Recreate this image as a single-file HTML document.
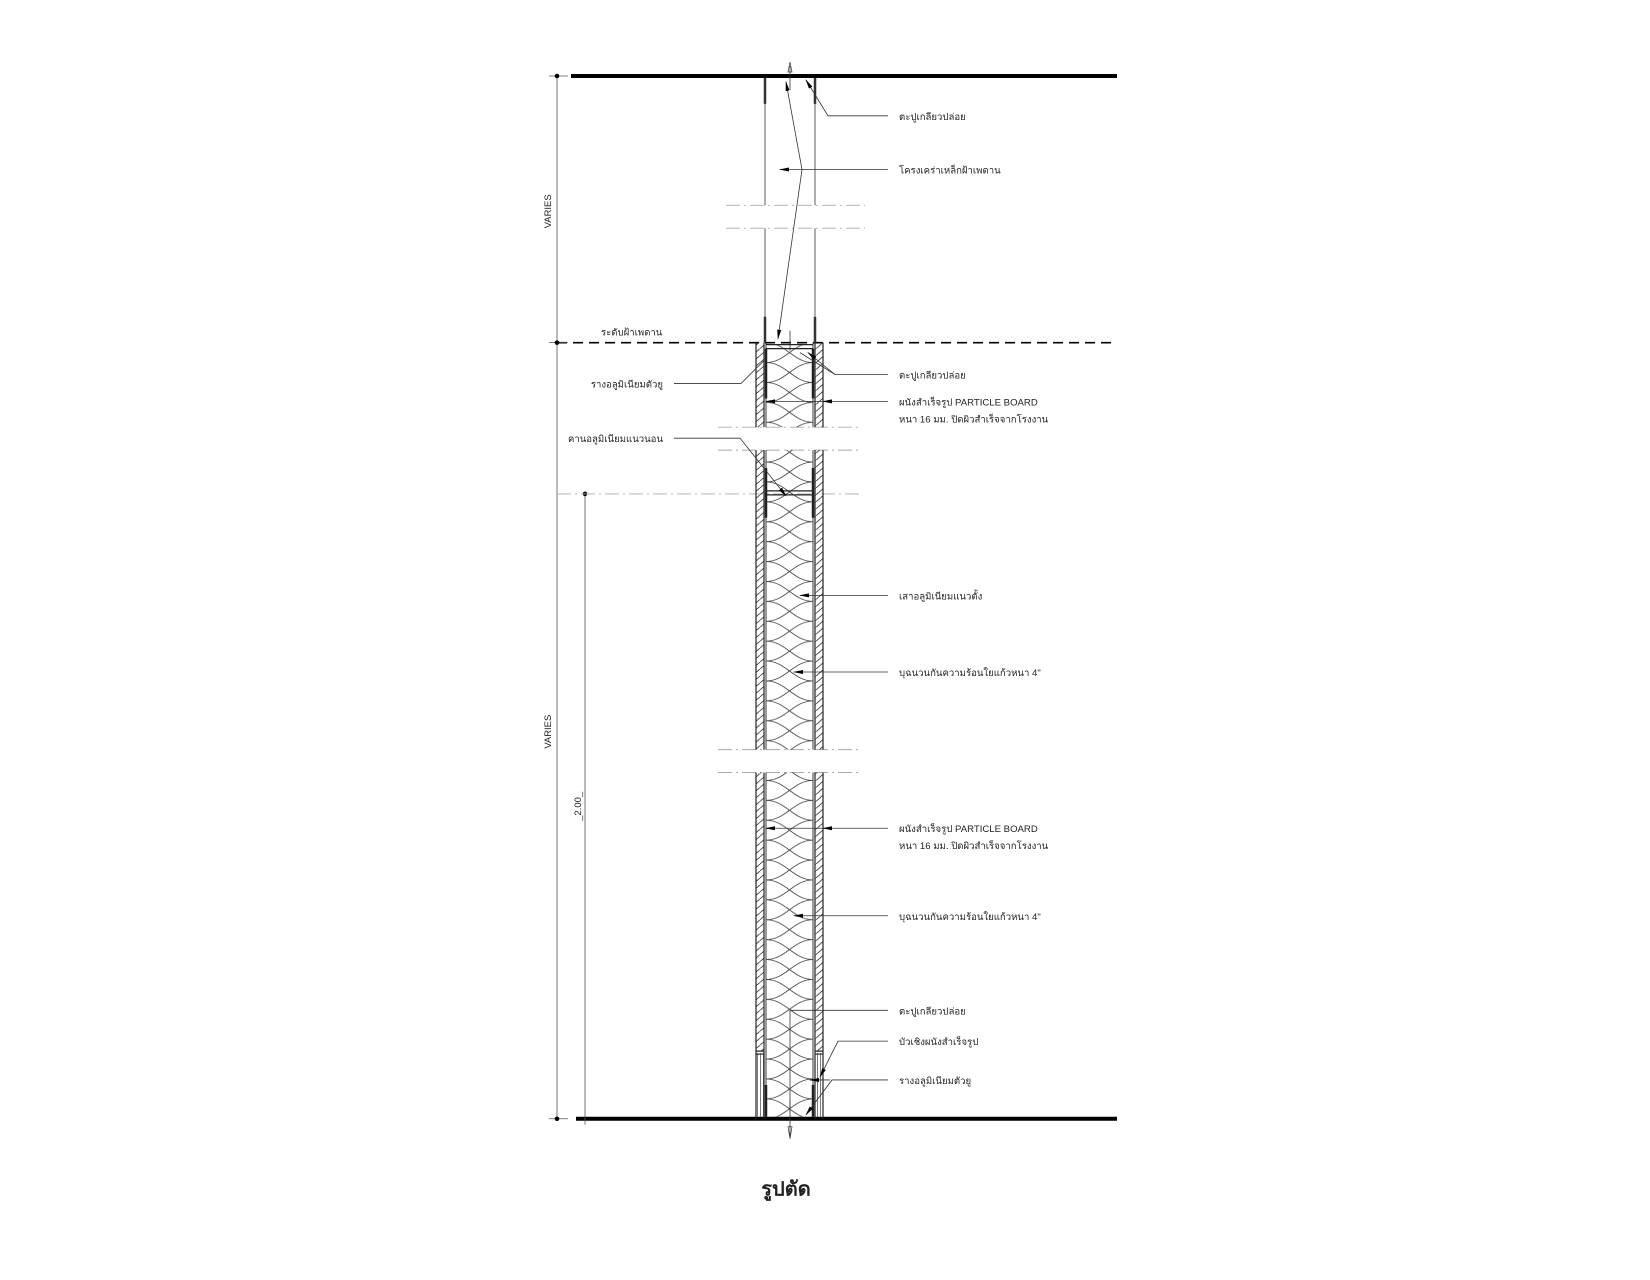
<!DOCTYPE html>
<html><head><meta charset="utf-8"><style>
html,body{margin:0;padding:0;background:#fff;}
svg text{font-family:"Liberation Sans","Noto Sans CJK SC",sans-serif;fill:#222;}
</style></head><body>
<svg width="1650" height="1275" viewBox="0 0 1650 1275" xmlns="http://www.w3.org/2000/svg">
<defs>
<pattern id="hat" patternUnits="userSpaceOnUse" width="8" height="7">
<path d="M-1,8 L9,-1" stroke="#333" stroke-width="0.8"/>
</pattern>
<pattern id="ins" patternUnits="userSpaceOnUse" x="766" y="344" width="47" height="40">
<path d="M0,0 C20,0 27,20 47,20 C27,20 20,40 0,40 M47,0 C27,0 20,20 0,20 C20,20 27,40 47,40" fill="none" stroke="#444" stroke-width="0.8"/>
</pattern>
<pattern id="vl" patternUnits="userSpaceOnUse" width="3" height="10">
<path d="M1.5,0 V10" stroke="#444" stroke-width="0.7"/>
</pattern>
<marker id="ar" markerWidth="10" markerHeight="6" refX="9" refY="3" orient="auto" markerUnits="userSpaceOnUse">
<path d="M0,1 L10,3 L0,5 Z" fill="#000"/>
</marker>
</defs>
<g transform="translate(0,76) scale(1,0.995) translate(0,-76)">
<!-- slabs -->
<line x1="571" y1="76" x2="1117" y2="76" stroke="#000" stroke-width="4"/>
<line x1="576" y1="1124" x2="1117" y2="1124" stroke="#000" stroke-width="4"/>
<line x1="557" y1="344" x2="1117" y2="344" stroke="#000" stroke-width="1.6" stroke-dasharray="10,6"/>

<!-- dims -->
<g stroke="#555" stroke-width="0.8">
<line x1="557" y1="76" x2="557" y2="1124"/>
<line x1="549" y1="76" x2="568" y2="76"/>
<line x1="549" y1="344" x2="568" y2="344"/>
<line x1="549" y1="1124" x2="568" y2="1124"/>
<line x1="585" y1="496" x2="585" y2="1130"/>
</g>
<circle cx="557" cy="76" r="2.3"/><circle cx="557" cy="344" r="2.3"/><circle cx="557" cy="1124" r="2.3"/><circle cx="585" cy="496" r="2.3"/>
<text x="0" y="0" font-size="9.5" transform="translate(551,212) rotate(-90)" text-anchor="middle">VARIES</text>
<text x="0" y="0" font-size="9.5" transform="translate(551,735) rotate(-90)" text-anchor="middle">VARIES</text>
<text x="0" y="0" font-size="9.5" transform="translate(581,810) rotate(-90)" text-anchor="middle">_2.00_</text>

<!-- dash-dot break lines -->
<g stroke="#aaa" stroke-width="0.9" stroke-dasharray="14,4,2,4">
<line x1="726" y1="206" x2="865" y2="206"/>
<line x1="726" y1="229" x2="865" y2="229"/>
<line x1="718" y1="429" x2="860" y2="429"/>
<line x1="718" y1="452" x2="860" y2="452"/>
<line x1="557" y1="496" x2="860" y2="496"/>
<line x1="718" y1="753" x2="860" y2="753"/>
<line x1="718" y1="776" x2="860" y2="776"/>
</g>

<!-- ceiling frame -->
<g stroke="#777" stroke-width="1.2">
<line x1="765" y1="78" x2="765" y2="206"/><line x1="815" y1="78" x2="815" y2="206"/>
<line x1="765" y1="229" x2="765" y2="344"/><line x1="815" y1="229" x2="815" y2="344"/>
</g>
<g stroke="#333" stroke-width="2.5">
<line x1="765" y1="78" x2="765" y2="104"/><line x1="815" y1="78" x2="815" y2="104"/>
<line x1="765" y1="318" x2="765" y2="344"/><line x1="815" y1="318" x2="815" y2="344"/>
</g>
<line x1="790" y1="66" x2="790" y2="90" stroke="#333" stroke-width="0.8"/>
<path d="M788,72 L790,62 L792,72 Z" fill="none" stroke="#333" stroke-width="0.7"/>
<line x1="790" y1="332" x2="790" y2="352" stroke="#333" stroke-width="0.8"/>

<!-- wall segments -->
<g>
<rect x="766" y="346" width="47" height="83" fill="url(#ins)"/>
<rect x="766" y="452" width="47" height="301" fill="url(#ins)"/>
<rect x="766" y="776" width="47" height="346" fill="url(#ins)"/>
<rect x="756" y="344" width="8" height="85" fill="url(#hat)"/>
<rect x="815" y="344" width="8" height="85" fill="url(#hat)"/>
<rect x="756" y="452" width="8" height="301" fill="url(#hat)"/>
<rect x="815" y="452" width="8" height="301" fill="url(#hat)"/>
<rect x="756" y="776" width="8" height="280" fill="url(#hat)"/>
<rect x="815" y="776" width="8" height="280" fill="url(#hat)"/>
<rect x="756" y="1058" width="8" height="64" fill="url(#vl)"/>
<rect x="815" y="1058" width="8" height="64" fill="url(#vl)"/>
</g>
<g stroke="#222" stroke-width="1.2" fill="none">
<path d="M756,344 V429 M764,344 V429 M815,344 V429 M823,344 V429"/>
<path d="M756,452 V753 M764,452 V753 M815,452 V753 M823,452 V753"/>
<path d="M756,776 V1124 M764,776 V1124 M815,776 V1124 M823,776 V1124"/>
<path d="M756,1056 H764 M756,1059 H764 M815,1056 H823 M815,1059 H823"/>
</g>
<g stroke="#222" stroke-width="0.9">
<line x1="766" y1="344" x2="766" y2="429"/><line x1="813" y1="344" x2="813" y2="429"/>
<line x1="766" y1="452" x2="766" y2="753"/><line x1="813" y1="452" x2="813" y2="753"/>
<line x1="766" y1="776" x2="766" y2="1122"/><line x1="813" y1="776" x2="813" y2="1122"/>
</g>
<g stroke="#222" stroke-width="1.3">
<line x1="766" y1="346" x2="813" y2="346"/><line x1="766" y1="350" x2="813" y2="350"/>
<line x1="766" y1="493" x2="813" y2="493"/><line x1="766" y1="497" x2="813" y2="497"/>
</g>
<g stroke="#222" stroke-width="2.5">
<line x1="766" y1="350" x2="766" y2="400"/><line x1="813" y1="350" x2="813" y2="400"/>
<line x1="766" y1="470" x2="766" y2="520"/><line x1="813" y1="470" x2="813" y2="520"/>
<line x1="766" y1="1090" x2="766" y2="1122"/><line x1="813" y1="1090" x2="813" y2="1122"/>
</g>
<line x1="790" y1="1105" x2="790" y2="1142" stroke="#333" stroke-width="0.8"/>
<path d="M788,1132 L790,1144 L792,1132 Z" fill="none" stroke="#333" stroke-width="0.7"/>

<!-- leaders -->
<g stroke="#333" stroke-width="0.8" fill="none">
<path d="M888,116 H828 L806,80" marker-end="url(#ar)"/>
<path d="M888,170 H802 L786,82" marker-end="url(#ar)"/>
<path d="M802,170 L778,340" marker-end="url(#ar)"/>
<path d="M802,170 H780" marker-end="url(#ar)"/>
<path d="M674,385 H741 L764,362"/>
<path d="M888,376 H835 L808,354" marker-end="url(#ar)"/>
<path d="M835,376 L800,354"/>
<path d="M888,403 H823" marker-end="url(#ar)"/>
<path d="M823,403 H766"/>
<path d="M772,403 H766" marker-end="url(#ar)"/>
<path d="M674,440 H740 L786,498" marker-end="url(#ar)"/>
<path d="M888,598 H800" marker-end="url(#ar)"/>
<path d="M888,675 H794" marker-end="url(#ar)"/>
<path d="M888,832 H823" marker-end="url(#ar)"/>
<path d="M823,832 H766"/>
<path d="M772,832 H766" marker-end="url(#ar)"/>
<path d="M888,920 H794" marker-end="url(#ar)"/>
<path d="M888,1015 H790 V1118"/>
<path d="M888,1046 H838 L820,1082" marker-end="url(#ar)"/>
<path d="M888,1085 H832 L806,1120" marker-end="url(#ar)"/>
<path d="M830,1085 H810" marker-end="url(#ar)"/>
</g>

<!-- labels -->
<g font-size="9.6">
<text x="899" y="120">ตะปูเกลียวปล่อย</text>
<text x="899" y="174">โครงเคร่าเหล็กฝ้าเพดาน</text>
<text x="601" y="337">ระดับฝ้าเพดาน</text>
<text x="663" y="389" text-anchor="end">รางอลูมิเนียมตัวยู</text>
<text x="899" y="380">ตะปูเกลียวปล่อย</text>
<text x="899" y="407">ผนังสำเร็จรูป PARTICLE BOARD</text>
<text x="899" y="424">หนา 16 มม. ปิดผิวสำเร็จจากโรงงาน</text>
<text x="663" y="444" text-anchor="end">คานอลูมิเนียมแนวนอน</text>
<text x="899" y="602">เสาอลูมิเนียมแนวตั้ง</text>
<text x="899" y="679">บุฉนวนกันความร้อนใยแก้วหนา 4"</text>
<text x="899" y="836">ผนังสำเร็จรูป PARTICLE BOARD</text>
<text x="899" y="853">หนา 16 มม. ปิดผิวสำเร็จจากโรงงาน</text>
<text x="899" y="924">บุฉนวนกันความร้อนใยแก้วหนา 4"</text>
<text x="899" y="1019">ตะปูเกลียวปล่อย</text>
<text x="899" y="1050">บัวเชิงผนังสำเร็จรูป</text>
<text x="899" y="1089">รางอลูมิเนียมตัวยู</text>
</g>
<text x="786" y="1201" font-size="20" font-weight="bold" text-anchor="middle">รูปตัด</text>
</g>
</svg>
</body></html>
